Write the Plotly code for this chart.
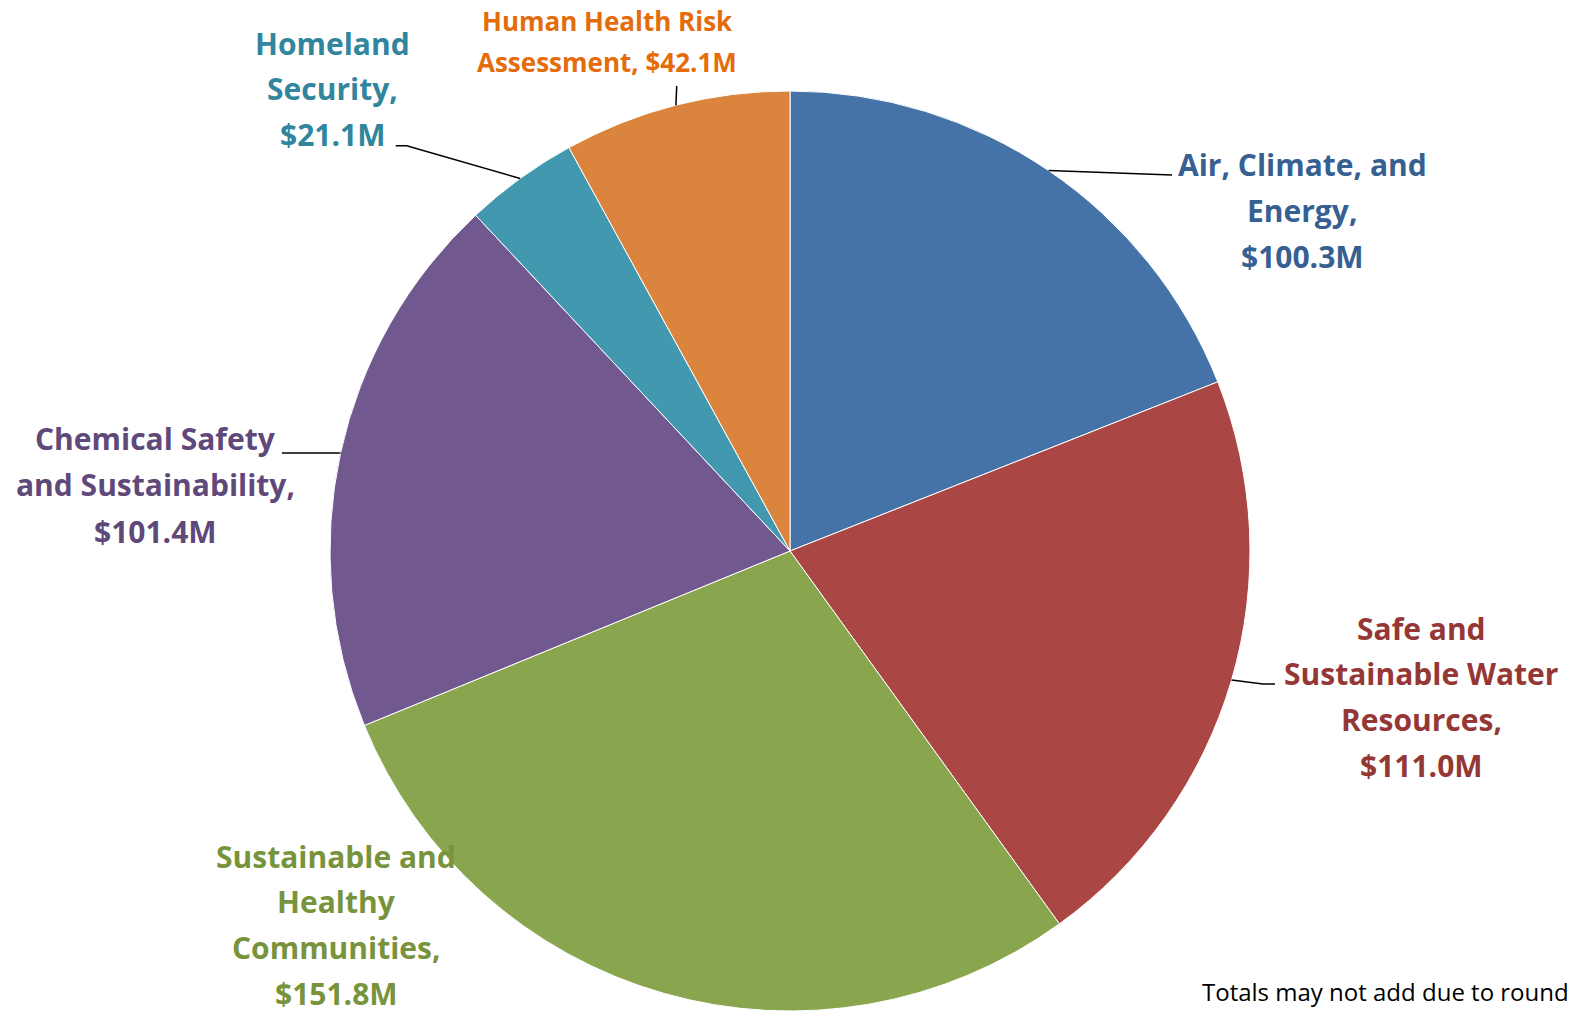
"""
EPA research budget pie chart
"""
import math
import plotly.graph_objects as go

# data
programs = [
    "Air, Climate, and Energy",
    "Safe and Sustainable Water Resources",
    "Sustainable and Healthy Communities",
    "Chemical Safety and Sustainability",
    "Homeland Security",
    "Human Health Risk Assessment",
]
budget_musd = [100.3, 111.0, 151.8, 101.4, 21.1, 42.1]

# label lines as shown on the chart (one entry per program)
label_lines = [
    ["Air, Climate, and", "Energy,"],
    ["Safe and", "Sustainable Water", "Resources,"],
    ["Sustainable and", "Healthy", "Communities,"],
    ["Chemical Safety", "and Sustainability,"],
    ["Homeland", "Security,"],
    ["Human Health Risk", "Assessment,"],
]
# when True the value goes on the last line instead of its own line
value_inline = [False, False, False, False, False, True]

slice_colors = ["#4572A7", "#AA4643", "#89A54E", "#71588F", "#4198AF", "#DB843D"]
text_colors = ["#376092", "#953735", "#77933C", "#5F497A", "#31859C", "#E46C0A"]

# layout (pixels, in window coords; the page body adds an 8px offset)
OFF = 8
W, H = 1575 - OFF, 1011 - OFF
CX, CY, R = 790, 551, 460
label_pos = [  # center x, y of first line, line step, font size
    (1302, 164.5, 45.8, 30),
    (1421, 628, 45.8, 30),
    (336, 856, 45.8, 30),
    (155, 439, 46, 30),
    (332, 43.5, 45.3, 30),
    (607, 21, 41, 26),
]
# leader line points after the slice edge (pixels)
leader_pts = [
    [(1172, 175)],
    [(1263, 684), (1275, 684)],
    [],
    [(282, 453)],
    [(406.7, 145.7), (395.7, 145.7)],
    [(676.7, 86)],
]

FONT = "'Open Sans', Lato, sans-serif"


def px(x, y):
    """window pixel -> paper coords"""
    return (x - OFF) / W, 1 - (y - OFF) / H


def build_figure():
    x0, y1 = px(CX - R, CY - R)
    x1, y0 = px(CX + R, CY + R)
    fig = go.Figure(go.Pie(
        labels=programs,
        values=budget_musd,
        sort=False,
        direction="clockwise",
        rotation=0,
        textinfo="none",
        hoverinfo="label+value",
        marker=dict(colors=slice_colors, line=dict(color="white", width=1)),
        domain=dict(x=[x0, x1], y=[y0, y1]),
        showlegend=False,
    ))

    total = sum(budget_musd)
    cum = 0
    for i, v in enumerate(budget_musd):
        mid = (cum + v / 2) / total * 2 * math.pi
        cum += v
        # leader line from slice edge at its mid angle
        pts = [(CX + R * math.sin(mid), CY - R * math.cos(mid))] + leader_pts[i]
        if len(pts) > 1:
            path = "M " + " L ".join(
                "%f,%f" % px(x, y) for x, y in pts)
            fig.add_shape(type="path", path=path, xref="paper", yref="paper",
                          line=dict(color="black", width=1.5))

        # labels
        lines = list(label_lines[i])
        val = "${:.1f}M".format(v)
        if value_inline[i]:
            lines[-1] = lines[-1] + " " + val
        else:
            lines.append(val)
        lx, ly, step, size = label_pos[i]
        for j, t in enumerate(lines):
            ax, ay = px(lx, ly + j * step)
            fig.add_annotation(
                x=ax, y=ay, xref="paper", yref="paper", text="<b>%s</b>" % t,
                showarrow=False, xanchor="center", yanchor="middle",
                font=dict(family=FONT, size=size, color=text_colors[i]),
            )

    ax, ay = px(1200, 991)
    fig.add_annotation(
        x=ax, y=ay, xref="paper", yref="paper",
        text="Totals may not add due to rounding.",
        showarrow=False, xanchor="left", yanchor="middle",
        font=dict(family=FONT, size=24, color="black"),
    )

    fig.update_layout(
        width=W, height=H,
        margin=dict(l=0, r=0, t=0, b=0),
        paper_bgcolor="white",
        plot_bgcolor="white",
    )
    return fig


fig = build_figure()
fig.write_html("out.html")
